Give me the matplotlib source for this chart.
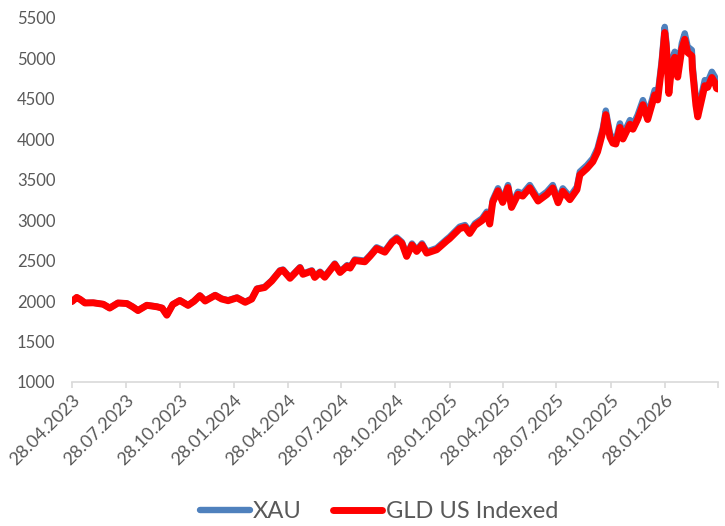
import matplotlib
matplotlib.use("Agg")
import matplotlib.pyplot as plt
import pandas as pd

plt.rcParams['font.family'] = ['Lato', 'DejaVu Sans']

# ---- データ ----
dates = [
    "2023-04-28", "2023-05-06", "2023-05-12", "2023-05-20", "2023-06-03", "2023-06-20",
    "2023-07-01", "2023-07-15", "2023-07-30", "2023-08-09", "2023-08-18", "2023-09-02",
    "2023-09-19", "2023-09-28", "2023-10-06", "2023-10-16", "2023-10-28", "2023-11-11",
    "2023-11-21", "2023-12-01", "2023-12-10", "2023-12-27", "2024-01-07", "2024-01-18",
    "2024-02-02", "2024-02-16", "2024-02-27", "2024-03-07", "2024-03-20", "2024-04-01",
    "2024-04-15", "2024-04-20", "2024-05-02", "2024-05-19", "2024-05-24", "2024-06-08",
    "2024-06-13", "2024-06-22", "2024-06-30", "2024-07-17", "2024-07-26", "2024-08-07",
    "2024-08-12", "2024-08-20", "2024-09-06", "2024-09-15", "2024-09-26", "2024-10-10",
    "2024-10-22", "2024-10-30", "2024-11-08", "2024-11-16", "2024-11-25", "2024-12-03",
    "2024-12-12", "2024-12-20", "2025-01-06", "2025-01-23", "2025-01-28", "2025-02-14",
    "2025-02-23", "2025-03-03", "2025-03-12", "2025-03-24", "2025-04-01", "2025-04-06",
    "2025-04-11", "2025-04-20", "2025-04-28", "2025-05-07", "2025-05-13", "2025-05-24",
    "2025-06-01", "2025-06-13", "2025-06-27", "2025-07-12", "2025-07-22", "2025-07-31",
    "2025-08-08", "2025-08-20", "2025-09-01", "2025-09-06", "2025-09-18", "2025-09-28",
    "2025-10-06", "2025-10-15", "2025-10-20", "2025-10-27", "2025-11-01", "2025-11-06",
    "2025-11-13", "2025-11-18", "2025-11-30", "2025-12-05", "2025-12-13", "2025-12-22",
    "2025-12-30", "2026-01-11", "2026-01-16", "2026-01-23", "2026-01-28", "2026-01-31",
    "2026-02-04", "2026-02-09", "2026-02-14", "2026-02-19", "2026-02-26", "2026-03-03",
    "2026-03-08", "2026-03-15", "2026-03-16", "2026-03-22", "2026-03-25", "2026-04-01",
    "2026-04-06", "2026-04-11", "2026-04-18", "2026-04-23", "2026-04-26", "2026-04-28",
]

xau = [
    1995, 2045, 2020, 1978, 1980, 1962,
    1915, 1978, 1972, 1930, 1885, 1950,
    1932, 1915, 1828, 1960, 2010, 1950,
    2000, 2070, 2005, 2075, 2030, 2010,
    2045, 1990, 2030, 2155, 2175, 2255,
    2380, 2390, 2290, 2420, 2340, 2380,
    2302, 2364, 2305, 2465, 2365, 2445,
    2420, 2515, 2500, 2570, 2665, 2620,
    2740, 2788, 2730, 2570, 2712, 2632,
    2714, 2612, 2655, 2765, 2795, 2920,
    2940, 2860, 2960, 3022, 3105, 2980,
    3250, 3395, 3250, 3435, 3188, 3352,
    3330, 3435, 3270, 3352, 3435, 3250,
    3394, 3290, 3414, 3600, 3680, 3765,
    3890, 4140, 4355, 4075, 4000, 3990,
    4197, 4053, 4238, 4177, 4300, 4485,
    4300, 4609, 4547, 4980, 5390, 5186,
    4630, 4980, 5083, 4835, 5186, 5310,
    5145, 5104, 4940, 4485, 4341, 4568,
    4732, 4712, 4835, 4774, 4700, 4692,
]

gld = [
    1995, 2045, 2020, 1977, 1979, 1961,
    1914, 1976, 1970, 1928, 1883, 1948,
    1930, 1913, 1826, 1957, 2007, 1947,
    1997, 2066, 2001, 2071, 2026, 2005,
    2040, 1985, 2025, 2149, 2168, 2248,
    2372, 2382, 2282, 2411, 2331, 2371,
    2293, 2354, 2295, 2454, 2354, 2433,
    2408, 2502, 2486, 2556, 2650, 2605,
    2724, 2771, 2713, 2553, 2694, 2614,
    2695, 2593, 2635, 2744, 2773, 2896,
    2916, 2836, 2935, 2996, 3077, 2953,
    3221, 3364, 3220, 3403, 3158, 3320,
    3298, 3401, 3237, 3318, 3399, 3216,
    3358, 3254, 3377, 3561, 3640, 3723,
    3846, 4093, 4305, 4027, 3953, 3942,
    4147, 4004, 4186, 4125, 4246, 4428,
    4245, 4549, 4487, 4915, 5320, 5117,
    4567, 4913, 5014, 4769, 5115, 5237,
    5073, 5032, 4869, 4420, 4278, 4501,
    4663, 4643, 4764, 4703, 4630, 4622,
]

tick_dates = [
    "2023-04-28", "2023-07-28", "2023-10-28", "2024-01-28", "2024-04-28", "2024-07-28",
    "2024-10-28", "2025-01-28", "2025-04-28", "2025-07-28", "2025-10-28", "2026-01-28",
    "2026-04-28",
]
yticks = [1000, 1500, 2000, 2500, 3000, 3500, 4000, 4500, 5000, 5500]

# ---- 描画 ----
x = pd.to_datetime(dates)
tx = pd.to_datetime(tick_dates)
tick_labels = [d.strftime("%d.%m.%Y") for d in tx[:-1]] + [""]

GRAY = "#595959"
AXIS = "#d9d9d9"

fig = plt.figure(figsize=(7.25, 5.26), dpi=100)
ax = fig.add_axes([0.0993, 0.2738, 0.8907, 0.6920])

ax.plot(x, xau, color="#4f81bd", lw=4.6, solid_capstyle="round", label="XAU")
ax.plot(x, gld, color="#ff0000", lw=5.0, solid_capstyle="round", label="GLD US Indexed")

ax.set_xlim(tx[0], tx[-1])
ax.set_ylim(1000, 5500)
ax.set_yticks(yticks)
ax.set_xticks(tx)
ax.set_xticklabels(tick_labels, rotation=45, ha="right", va="top",
                   rotation_mode="anchor")

for s in ["top", "right", "left"]:
    ax.spines[s].set_visible(False)
ax.spines["bottom"].set_color(AXIS)
ax.spines["bottom"].set_linewidth(1.2)

ax.tick_params(axis="y", length=0, pad=12, labelsize=12, labelcolor=GRAY)
ax.tick_params(axis="x", length=4, width=1.2, color=AXIS, pad=3,
               labelsize=13, labelcolor=GRAY)

fig.legend(loc="center", bbox_to_anchor=(0.523, 0.027), ncol=2, frameon=False,
           fontsize=17, labelcolor=GRAY, handlelength=2.1, handletextpad=0.15,
           columnspacing=1.3)

fig.savefig("out.png", dpi=100)
